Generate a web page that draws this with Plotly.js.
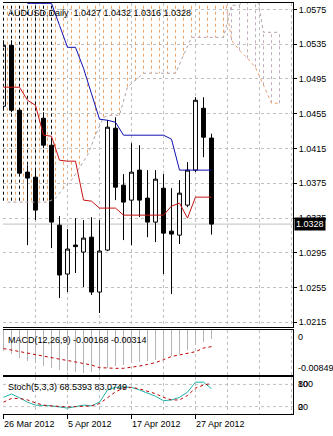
<!DOCTYPE html>
<html><head><meta charset="utf-8">
<script src="https://cdn.plot.ly/plotly-3.0.1.min.js"></script>
<style>html,body{margin:0;padding:0;background:#fff}#chart{width:333px;height:436px}</style>
</head><body><div id="chart"></div>
<script>
const symbol = "AUDUSD,Daily";
const dateLabels = ["26 Mar 2012", "5 Apr 2012", "17 Apr 2012", "27 Apr 2012"];
const dateLabelBars = [0, 8, 16, 24];
const priceTicks = [1.0215, 1.0255, 1.0295, 1.0335, 1.0375, 1.0415, 1.0455, 1.0495, 1.0535, 1.0575];

const openP  = [1.04636,1.05337,1.04590,1.03878,1.03820,1.04498,1.04188,1.03268,1.02705,1.03039,1.02958,1.03130,1.02498,1.02981,1.04383,1.03728,1.03556,1.03901,1.03579,1.03303,1.03693,1.03199,1.03153,1.03498,1.03901,1.04613,1.0427];
const highP  = [1.05395,1.05395,1.04610,1.03958,1.03901,1.04567,1.04245,1.03372,1.03222,1.03349,1.03326,1.03360,1.03326,1.04476,1.04509,1.03855,1.04211,1.04188,1.03901,1.03901,1.03855,1.03693,1.03786,1.03993,1.04739,1.04739,1.0432];
const lowP   = [1.04590,1.04567,1.03843,1.03038,1.03326,1.04153,1.03004,1.02429,1.02498,1.02717,1.02556,1.02464,1.02257,1.02970,1.03556,1.03096,1.03038,1.03360,1.03130,1.03073,1.02705,1.02475,1.03050,1.03475,1.03878,1.04050,1.0316];
const closeP = [1.05337,1.04590,1.03866,1.03809,1.03441,1.04188,1.03303,1.02694,1.02993,1.03021,1.03119,1.02498,1.02970,1.04395,1.03705,1.03533,1.03878,1.03556,1.03303,1.03797,1.03176,1.03165,1.03636,1.03901,1.04705,1.04280,1.0328];

const tenkan = [1.04855,1.04855,1.04855,1.04705,1.04647,1.04303,1.04291,1.04015,1.04004,1.04004,1.03556,1.03544,1.03464,1.03464,1.03464,1.03383,1.03383,1.03383,1.03383,1.03383,1.03383,1.03487,1.03521,1.03349,1.03590,1.03590,1.03590];
const kijun  = [1.0600,1.0600,1.0600,1.0582,1.0582,1.0582,1.0582,1.05567,1.05314,1.05314,1.05073,1.0478,1.04487,1.04475,1.04452,1.04303,1.04303,1.04303,1.04303,1.04303,1.04303,1.04257,1.03901,1.03901,1.03901,1.03901,1.03901];

const spanA = [1.0600,1.0600,1.0600,1.0600,1.0600,1.0600,1.0600,1.0600,1.0600,1.0600,1.0600,1.0600,1.0600,1.0600,1.0600,1.0600,1.0600,1.0600,1.0600,1.0600,1.0600,1.0600,1.0600,1.0600,1.0600,1.0600,1.0600,1.0600,1.05395,1.05280,1.05188,1.05084,1.04878,1.04671,1.04671];
const spanB = [1.03533,1.03533,1.03533,1.03533,1.03533,1.03533,1.03579,1.03694,1.03786,1.03924,1.04073,1.04303,1.04510,1.04533,1.04533,1.04855,1.04935,1.05016,1.05016,1.05016,1.05016,1.05016,1.05223,1.05429,1.05429,1.05429,1.05429,1.05429,1.05797,1.05797,1.0600,1.0600,1.05487,1.05487,1.05487];
const kumoDarkBars = 7;

const macdMain   = [-0.0040,-0.0046,-0.0052,-0.0058,-0.0063,-0.0067,-0.0071,-0.0075,-0.0078,-0.0080,-0.0081,-0.0080,-0.0078,-0.0072,-0.0068,-0.0066,-0.0063,-0.0060,-0.0058,-0.0056,-0.0054,-0.0050,-0.0045,-0.0038,-0.0028,-0.0022,-0.00168];
const macdSignal = [-0.00350,-0.00380,-0.00405,-0.00440,-0.00470,-0.00495,-0.00525,-0.00550,-0.00575,-0.00600,-0.00630,-0.00660,-0.00710,-0.00723,-0.00723,-0.00723,-0.00705,-0.00680,-0.00650,-0.00615,-0.00560,-0.00500,-0.00470,-0.00440,-0.00410,-0.00340,-0.00314];
const macdScale = [0, -0.00849];

const stochMain   = [45,54,44,32,24,24,22,19,16,20,24,22,32,65,72,73,72,65,57,48,36,38,45,59,86,86,68.5393];
const stochSignal = [32,42,42,38,30,24,22,20,19,20,21,22,28,45,60,70,72,68,62,55,45,38,38,50,70,78,83.0749];
const stochLevels = [20, 80];
const stochScale = [0, 100];

const N = openP.length;
const bars = openP.map((_, i) => i);
const FONT = "Liberation Sans, Arial, sans-serif";
const GRID = "#c0c0c0";
const DASH = "3px,3px";

// cloud histogram segments (between bars)
const cloudX = spanA.map((_, k) => k + 0.5);
function segs(pred, xOf) {
  const xs = [], ys = [];
  for (let k = 0; k < spanA.length; k++) {
    if (spanA[k] == null || spanB[k] == null || !pred(k)) continue;
    xs.push(xOf(k), xOf(k), null);
    ys.push(spanA[k], spanB[k], null);
  }
  return {xs, ys};
}
const up = segs(k => spanA[k] >= spanB[k], k => cloudX[k]);
const dn = segs(k => spanA[k] < spanB[k], k => cloudX[k]);
const dark = segs(k => k < kumoDarkBars, k => k);

const traces = [
  {type: "scatter", mode: "lines", x: up.xs, y: up.ys, xaxis: "x", yaxis: "y",
   line: {color: "#eda060", width: 1, dash: DASH}, hoverinfo: "skip"},
  {type: "scatter", mode: "lines", x: dn.xs, y: dn.ys, xaxis: "x", yaxis: "y",
   line: {color: "#c0acc0", width: 1, dash: DASH}, hoverinfo: "skip"},
  {type: "scatter", mode: "lines", x: dark.xs, y: dark.ys, xaxis: "x", yaxis: "y",
   line: {color: "#000", width: 1, dash: DASH}, hoverinfo: "skip"},
  {type: "scatter", mode: "lines", x: cloudX, y: spanA, xaxis: "x", yaxis: "y",
   line: {color: "#e8a070", width: 1, dash: DASH}, hoverinfo: "skip"},
  {type: "scatter", mode: "lines", x: cloudX, y: spanB, xaxis: "x", yaxis: "y",
   line: {color: "#b0a0a8", width: 1, dash: DASH}, hoverinfo: "skip"},
  {type: "candlestick", x: bars, open: openP, high: highP, low: lowP, close: closeP,
   xaxis: "x", yaxis: "y", whiskerwidth: 0,
   increasing: {line: {color: "#000", width: 1}, fillcolor: "#fff"},
   decreasing: {line: {color: "#000", width: 1}, fillcolor: "#000"}, hoverinfo: "skip"},
  {type: "scatter", mode: "lines", x: bars, y: tenkan, xaxis: "x", yaxis: "y",
   line: {color: "#c81414", width: 1}, hoverinfo: "skip"},
  {type: "scatter", mode: "lines", x: bars, y: kijun, xaxis: "x", yaxis: "y",
   line: {color: "#1010b0", width: 1}, hoverinfo: "skip"},
  {type: "bar", x: bars, y: macdMain, xaxis: "x2", yaxis: "y2", width: 0.12,
   marker: {color: "#b4b4b4", line: {width: 0}}, hoverinfo: "skip"},
  {type: "scatter", mode: "lines", x: bars, y: macdSignal, xaxis: "x2", yaxis: "y2",
   line: {color: "#c00000", width: 1, dash: DASH}, hoverinfo: "skip"},
  {type: "scatter", mode: "lines", x: bars, y: stochMain, xaxis: "x3", yaxis: "y3",
   line: {color: "#20b2aa", width: 1}, hoverinfo: "skip"},
  {type: "scatter", mode: "lines", x: bars, y: stochSignal, xaxis: "x3", yaxis: "y3",
   line: {color: "#c00000", width: 1, dash: DASH}, hoverinfo: "skip"}
];

const xr = [-0.0625, 36.1875];
const gridVals = [];
for (let v = 0; v <= 36; v += 4) gridVals.push(v);
function xax(anchor, extra) {
  return Object.assign({
    anchor: anchor, range: xr, domain: [0, 1], showline: true, mirror: true,
    linecolor: "#000", linewidth: 1, zeroline: false, showticklabels: false,
    tickvals: gridVals, ticks: "", showgrid: true, gridcolor: GRID, griddash: DASH,
    gridwidth: 1, rangeslider: {visible: false}, fixedrange: true
  }, extra || {});
}

const last = N - 1;
const fmt = v => v.toFixed(4);
const annotations = [
  {xref: "paper", yref: "paper", x: 0, y: 1, xanchor: "left", yanchor: "top", xshift: 3, yshift: -3,
   text: symbol + "  " + [openP[last], highP[last], lowP[last], closeP[last]].map(fmt).join(" "),
   showarrow: false, font: {family: FONT, size: 9, color: "#000"}},
  {xref: "paper", yref: "y", x: 1, y: closeP[last], xanchor: "left", yanchor: "middle", xshift: 1,
   text: fmt(closeP[last]), showarrow: false, bgcolor: "#000", borderpad: 1,
   font: {family: FONT, size: 9, color: "#fff"}},
  {xref: "paper", yref: "y2", x: 0, y: macdScale[0], xanchor: "left", yanchor: "top", xshift: 3, yshift: -3,
   text: "MACD(12,26,9) " + macdMain[last].toFixed(5) + " " + macdSignal[last].toFixed(5),
   showarrow: false, font: {family: FONT, size: 9, color: "#000"}},
  {xref: "paper", yref: "y3", x: 0, y: stochScale[1], xanchor: "left", yanchor: "top", xshift: 3, yshift: -3,
   text: "Stoch(5,3,3) " + stochMain[last].toFixed(4) + " " + stochSignal[last].toFixed(4),
   showarrow: false, font: {family: FONT, size: 9, color: "#000"}},
  {xref: "paper", yref: "y2", x: 1, y: macdScale[0], xanchor: "left", yanchor: "top", xshift: 3,
   text: String(macdScale[0]), showarrow: false, font: {family: FONT, size: 9, color: "#000"}},
  {xref: "paper", yref: "y2", x: 1, y: macdScale[1], xanchor: "left", yanchor: "bottom", xshift: 3,
   text: macdScale[1].toFixed(5), showarrow: false, font: {family: FONT, size: 9, color: "#000"}},
  {xref: "paper", yref: "y3", x: 1, y: stochScale[1], xanchor: "left", yanchor: "top", xshift: 3,
   text: String(stochScale[1]), showarrow: false, font: {family: FONT, size: 9, color: "#000"}},
  {xref: "paper", yref: "y3", x: 1, y: stochScale[0], xanchor: "left", yanchor: "bottom", xshift: 3,
   text: String(stochScale[0]), showarrow: false, font: {family: FONT, size: 9, color: "#000"}}
];
stochLevels.forEach(l => annotations.push({xref: "paper", yref: "y3", x: 1, y: l, xanchor: "left",
  yanchor: "middle", xshift: 3, text: String(l), showarrow: false, font: {family: FONT, size: 9, color: "#000"}}));
dateLabels.forEach((t, j) => annotations.push({xref: "x3", yref: "paper", x: dateLabelBars[j], y: 0,
  xanchor: "left", yanchor: "top", xshift: -2, yshift: -3, text: t, showarrow: false,
  font: {family: FONT, size: 9, color: "#000"}}));

const shapes = [
  {type: "line", xref: "paper", yref: "y", x0: 0, x1: 1, y0: closeP[last], y1: closeP[last],
   line: {color: "#c0c0c0", width: 1}, layer: "below"}
];
stochLevels.forEach(l => shapes.push({type: "line", xref: "paper", yref: "y3", x0: 0, x1: 1, y0: l, y1: l,
  line: {color: GRID, width: 1, dash: DASH}, layer: "below"}));

const layout = {
  width: 333, height: 436, margin: {l: 3, r: 40, t: 3, b: 22},
  paper_bgcolor: "#fff", plot_bgcolor: "#fff", showlegend: false,
  font: {family: FONT, size: 9, color: "#000"},
  xaxis: xax("y"),
  xaxis2: xax("y2"),
  xaxis3: xax("y3", {tickvals: dateLabelBars, ticks: "outside", ticklen: 4, tickcolor: "#000",
    minor: {tickvals: gridVals, showgrid: true, gridcolor: GRID, griddash: DASH, ticks: ""}}),
  yaxis: {domain: [0.2117, 1], range: [1.02096, 1.05824], side: "right", tickvals: priceTicks,
    ticktext: priceTicks.map(fmt), ticks: "outside", ticklen: 3, tickcolor: "#000",
    showgrid: true, gridcolor: GRID, griddash: DASH, showline: true, linecolor: "#000",
    zeroline: false, fixedrange: true, tickfont: {family: FONT, size: 9}},
  yaxis2: {domain: [0.0949, 0.2044], range: [macdScale[1], macdScale[0]], side: "right",
    showticklabels: false, ticks: "", showgrid: false, zeroline: false, showline: true, linecolor: "#000", fixedrange: true},
  yaxis3: {domain: [0, 0.090], range: [stochScale[0], stochScale[1]], side: "right",
    showticklabels: false, ticks: "", showgrid: false, zeroline: false, showline: true, linecolor: "#000", fixedrange: true},
  annotations: annotations, shapes: shapes, bargap: 0
};

Plotly.newPlot("chart", traces, layout, {staticPlot: true, displayModeBar: false});
</script>
</body></html>
